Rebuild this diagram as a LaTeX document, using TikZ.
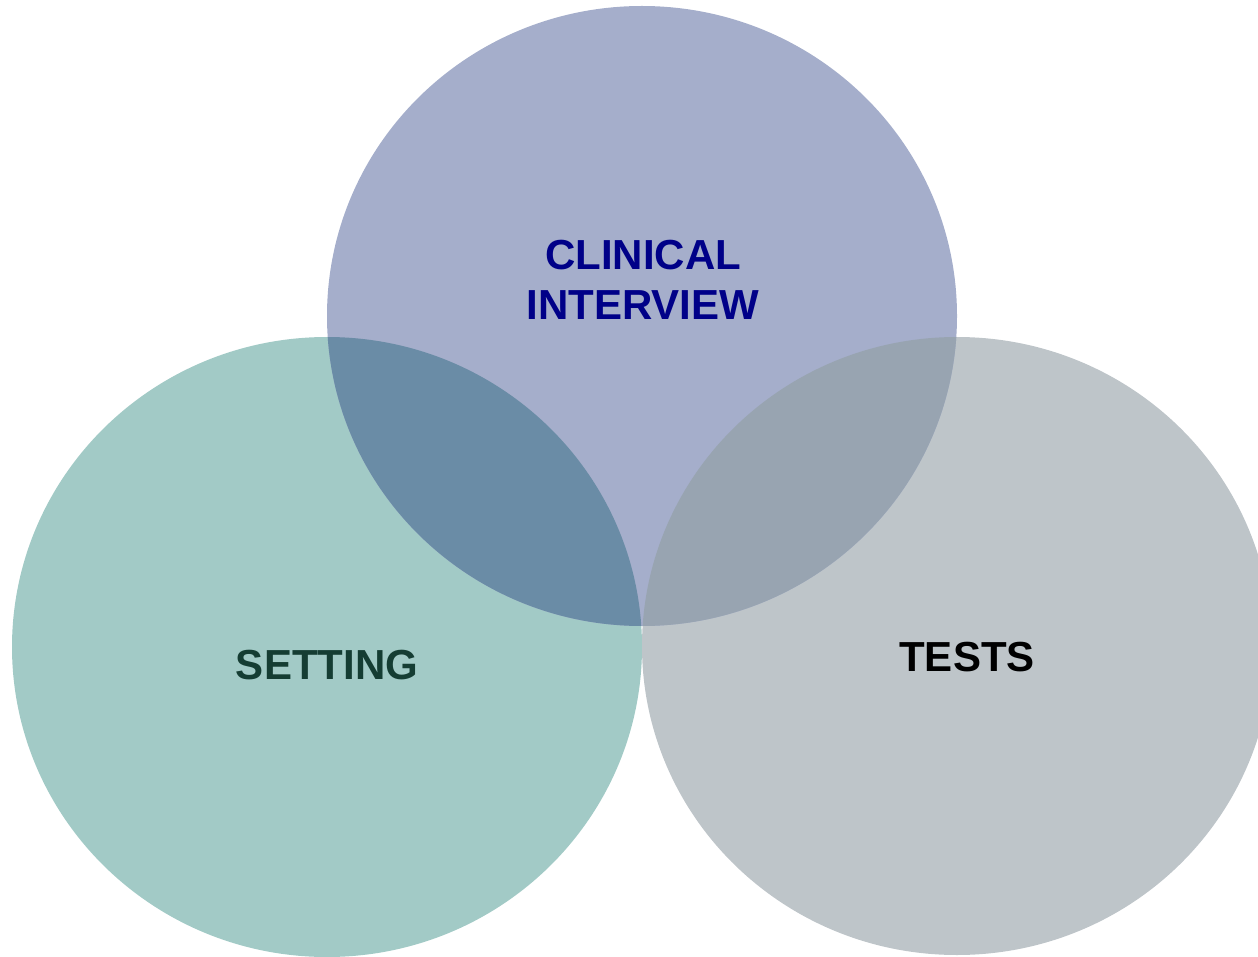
\documentclass[tikz,border=0pt]{standalone}
\usepackage{fontspec}
\setmainfont{Liberation Sans}
\definecolor{topblue}{HTML}{A5AECB}
\definecolor{leftgreen}{HTML}{A2CAC6}
\definecolor{rightgrey}{HTML}{BEC5C9}
\definecolor{tlmix}{HTML}{6A8CA6}
\definecolor{trmix}{HTML}{98A4B1}
\definecolor{navytext}{HTML}{000088}
\definecolor{greentext}{HTML}{153D33}
\begin{document}
\begin{tikzpicture}[
    x=1pt, y=-1pt,
    label/.style={font=\fontsize{42}{50}\selectfont\bfseries, align=center, inner sep=0pt}
]
\useasboundingbox (0,0) rectangle (1258,957);
\clip (0,0) rectangle (1258,957);

% Kreise
\fill[leftgreen] (327,647) ellipse [x radius=315, y radius=310];
\fill[rightgrey] (957,646) ellipse [x radius=315, y radius=309];
\fill[topblue] (642,316) ellipse [x radius=315, y radius=310];

% Schnittflaechen
\begin{scope}
    \clip (642,316) ellipse [x radius=315, y radius=310];
    \fill[tlmix] (327,647) ellipse [x radius=315, y radius=310];
\end{scope}
\begin{scope}
    \clip (642,316) ellipse [x radius=315, y radius=310];
    \fill[trmix] (957,646) ellipse [x radius=315, y radius=309];
\end{scope}

% Beschriftungen
\node[label, text=navytext] (interview) at (643,280) {CLINICAL\\INTERVIEW};
\node[label, text=greentext] (setting) at (327,665) {SETTING};
\node[label, text=black] (tests) at (967,657) {TESTS};
\end{tikzpicture}
\end{document}
